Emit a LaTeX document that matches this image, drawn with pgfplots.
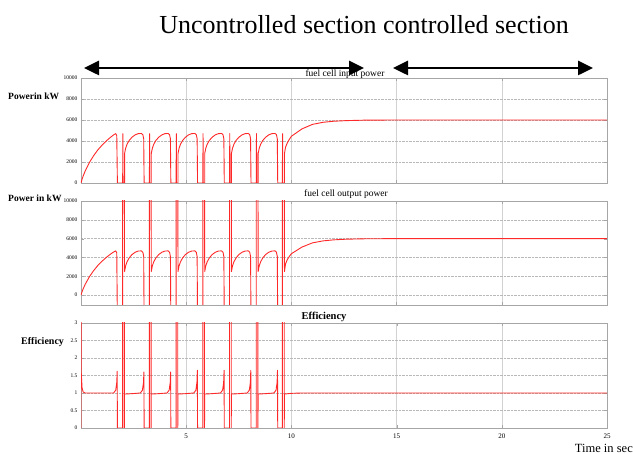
\documentclass[border=0pt]{standalone}
\usepackage{pgfplots}
\pgfplotsset{compat=1.18}
\usepackage{fontspec}
\setmainfont{Liberation Serif}
\usetikzlibrary{arrows.meta}
\definecolor{simred}{RGB}{255,40,40}
\pgfplotsset{
  panel/.style={
    scale only axis, width=526pt, xmin=0, xmax=25,
    xtick={0,5,10,15,20,25},
    anchor=south west,
    axis line style={gray!70},
    tick style={gray!70, major tick length=3pt},
    tick align=inside,
    grid=major,
    x grid style={gray!35, line width=0.5pt},
    y grid style={gray!55, densely dotted},
    scaled y ticks=false,
    /pgf/number format/assume math mode=true,
    tick label style={font=\fontsize{5.5}{6}\selectfont},
    yticklabel style={/pgf/number format/1000 sep={}},
    clip=true,
  },
  redline/.style={simred, line width=0.9pt, line join=round},
}
\begin{document}
\begin{tikzpicture}
\useasboundingbox (0,0) rectangle (633pt,454pt);

% Panel 1: fuel cell input power
\begin{axis}[panel, at={(81pt,271pt)}, height=105pt, ymin=0, ymax=10000,
  ytick={0,2000,4000,6000,8000,10000}, xticklabels={}]
\addplot[redline] coordinates {
(0,0) (0.05,350) (0.1,650) (0.2,1150) (0.4,1950) (0.6,2600) (0.8,3150) (1.0,3600) (1.2,4000) (1.4,4350) (1.55,4580) (1.65,4700) (1.70,4500) (1.73,0)
(1.98,0) (1.99,4700) (2.00,0) (2.07,0)
(2.07,2800) (2.12,3300) (2.19,3700) (2.29,4050) (2.42,4350) (2.57,4580) (2.72,4700) (2.87,4720) (2.94,4600) (2.98,4200) (3.00,0)
(3.25,0) (3.26,4700) (3.27,0) (3.34,0)
(3.34,2800) (3.39,3300) (3.46,3700) (3.56,4050) (3.69,4350) (3.84,4580) (3.99,4700) (4.14,4720) (4.21,4600) (4.25,4200) (4.27,0)
(4.52,0) (4.53,4700) (4.54,0) (4.61,0)
(4.61,2800) (4.66,3300) (4.73,3700) (4.83,4050) (4.96,4350) (5.11,4580) (5.26,4700) (5.41,4720) (5.48,4600) (5.52,4200) (5.54,0)
(5.79,0) (5.80,4700) (5.81,0) (5.88,0)
(5.88,2800) (5.93,3300) (6.00,3700) (6.10,4050) (6.23,4350) (6.38,4580) (6.53,4700) (6.68,4720) (6.75,4600) (6.79,4200) (6.81,0)
(7.06,0) (7.07,4700) (7.08,0) (7.15,0)
(7.15,2800) (7.20,3300) (7.27,3700) (7.37,4050) (7.50,4350) (7.65,4580) (7.80,4700) (7.95,4720) (8.02,4600) (8.06,4200) (8.08,0)
(8.33,0) (8.34,4700) (8.35,0) (8.42,0)
(8.42,2800) (8.47,3300) (8.54,3700) (8.64,4050) (8.77,4350) (8.92,4580) (9.07,4700) (9.22,4720) (9.29,4600) (9.33,4200) (9.35,0)
(9.57,0) (9.58,4700) (9.59,0) (9.67,0)
(9.67,2800) (9.72,3400) (9.80,3800) (9.90,4150) (10,4450) (10.5,5150) (11,5580) (11.5,5780) (12,5880) (12.6,5940) (13.5,5985) (15,6000) (25,6000)
};
\end{axis}

% Panel 2: fuel cell output power
\begin{axis}[panel, at={(81pt,149pt)}, height=104pt, ymin=-1050, ymax=10000,
  ytick={0,2000,4000,6000,8000,10000}, xticklabels={}]
\addplot[redline] coordinates {
(0,0) (0.05,350) (0.1,650) (0.2,1150) (0.4,1950) (0.6,2600) (0.8,3150) (1.0,3600) (1.2,4000) (1.4,4350) (1.55,4580) (1.65,4700) (1.70,4500) (1.73,-3000)
(1.98,-3000) (1.98,15000) (2.06,15000)
(2.07,2500) (2.12,3100) (2.19,3550) (2.29,3950) (2.42,4300) (2.57,4550) (2.72,4680) (2.87,4700) (2.94,4550) (2.98,4100) (3.00,-3000)
(3.25,-3000) (3.25,15000) (3.33,15000)
(3.34,2500) (3.39,3100) (3.46,3550) (3.56,3950) (3.69,4300) (3.84,4550) (3.99,4680) (4.14,4700) (4.21,4550) (4.25,4100) (4.27,-3000)
(4.52,-3000) (4.52,15000) (4.60,15000)
(4.61,2500) (4.66,3100) (4.73,3550) (4.83,3950) (4.96,4300) (5.11,4550) (5.26,4680) (5.41,4700) (5.48,4550) (5.52,4100) (5.54,-3000)
(5.79,-3000) (5.79,15000) (5.87,15000)
(5.88,2500) (5.93,3100) (6.00,3550) (6.10,3950) (6.23,4300) (6.38,4550) (6.53,4680) (6.68,4700) (6.75,4550) (6.79,4100) (6.81,-3000)
(7.06,-3000) (7.06,15000) (7.14,15000)
(7.15,2500) (7.20,3100) (7.27,3550) (7.37,3950) (7.50,4300) (7.65,4550) (7.80,4680) (7.95,4700) (8.02,4550) (8.06,4100) (8.08,-3000)
(8.33,-3000) (8.33,15000) (8.41,15000)
(8.42,2500) (8.47,3100) (8.54,3550) (8.64,3950) (8.77,4300) (8.92,4550) (9.07,4680) (9.22,4700) (9.29,4550) (9.33,4100) (9.35,-3000)
(9.57,-3000) (9.57,15000) (9.66,15000)
(9.67,2500) (9.72,3300) (9.80,3750) (9.90,4100) (10,4400) (10.5,5100) (11,5550) (11.5,5760) (12,5870) (12.6,5940) (13.5,5985) (15,6000) (25,6000)
};
\end{axis}

% Panel 3: efficiency
\begin{axis}[panel, at={(81pt,26pt)}, height=105pt, ymin=0, ymax=3,
  ytick={0,0.5,1,1.5,2,2.5,3}, yticklabels={0,0.5,1,1.5,2,2.5,3},
  xticklabels={,5,10,15,20,25},
  xticklabel style={font=\fontsize{7}{7}\selectfont, yshift=-2.5pt}]
\addplot[redline] coordinates {
(0,0) (0,5) (0.01,1.6) (0.05,1.15) (0.1,1.03) (0.2,1.0) (1.55,1.0) (1.65,1.08) (1.70,1.3) (1.72,1.62) (1.73,0)
(1.98,0) (1.98,5) (2.06,5) (2.06,0) (2.07,0.97) (2.4,0.98) (2.82,1.0) (2.92,1.08) (2.97,1.3) (2.99,1.6) (3.00,0)
(3.25,0) (3.25,5) (3.33,5) (3.33,0) (3.34,0.97) (3.67,0.98) (4.09,1.0) (4.19,1.08) (4.24,1.3) (4.26,1.6) (4.27,0)
(4.52,0) (4.52,5) (4.60,5) (4.60,0) (4.61,0.97) (4.94,0.98) (5.36,1.0) (5.46,1.08) (5.51,1.3) (5.53,1.65) (5.54,0)
(5.79,0) (5.79,5) (5.87,5) (5.87,0) (5.88,0.97) (6.21,0.98) (6.63,1.0) (6.73,1.08) (6.78,1.3) (6.80,1.65) (6.81,0)
(7.06,0) (7.06,5) (7.14,5) (7.14,0) (7.15,0.97) (7.48,0.98) (7.90,1.0) (8.00,1.08) (8.05,1.3) (8.07,1.65) (8.08,0)
(8.33,0) (8.33,5) (8.41,5) (8.41,0) (8.42,0.97) (8.75,0.98) (9.17,1.0) (9.27,1.08) (9.32,1.3) (9.34,1.65) (9.35,0)
(9.57,0) (9.57,5) (9.66,5) (9.66,0) (9.67,0.97) (10,0.99) (10.5,1.0) (25,1.0)
};
\end{axis}

% Annotations
\node[font=\fontsize{26}{26}\selectfont] at (364pt,429pt) {Uncontrolled section controlled section};
\draw[line width=2.6pt, {Triangle[length=15pt,width=14pt]}-{Triangle[length=15pt,width=14pt]}] (84pt,386pt) -- (364pt,386pt);
\draw[line width=2.6pt, {Triangle[length=15pt,width=14pt]}-{Triangle[length=15pt,width=14pt]}] (393pt,386pt) -- (593pt,386pt);
\node[font=\fontsize{9.5}{9.5}\selectfont, inner sep=0pt] at (345pt,380pt) {fuel cell input power};
\node[font=\fontsize{9.5}{9.5}\selectfont, inner sep=0pt] at (346pt,260pt) {fuel cell output power};
\node[font=\fontsize{10.5}{10.5}\selectfont\bfseries, inner sep=0pt] at (324pt,137pt) {Efficiency};
\node[font=\fontsize{9.5}{9.5}\selectfont\bfseries, anchor=west, inner sep=0pt] at (8pt,358pt) {Powerin kW};
\node[font=\fontsize{9.5}{9.5}\selectfont\bfseries, anchor=west, inner sep=0pt] at (8pt,256pt) {Power in kW};
\node[font=\fontsize{10}{10}\selectfont\bfseries, anchor=west, inner sep=0pt] at (21pt,112pt) {Efficiency};
\node[font=\fontsize{12.5}{12.5}\selectfont, anchor=east, inner sep=0pt] at (633pt,6pt) {Time in sec};
\end{tikzpicture}
\end{document}
